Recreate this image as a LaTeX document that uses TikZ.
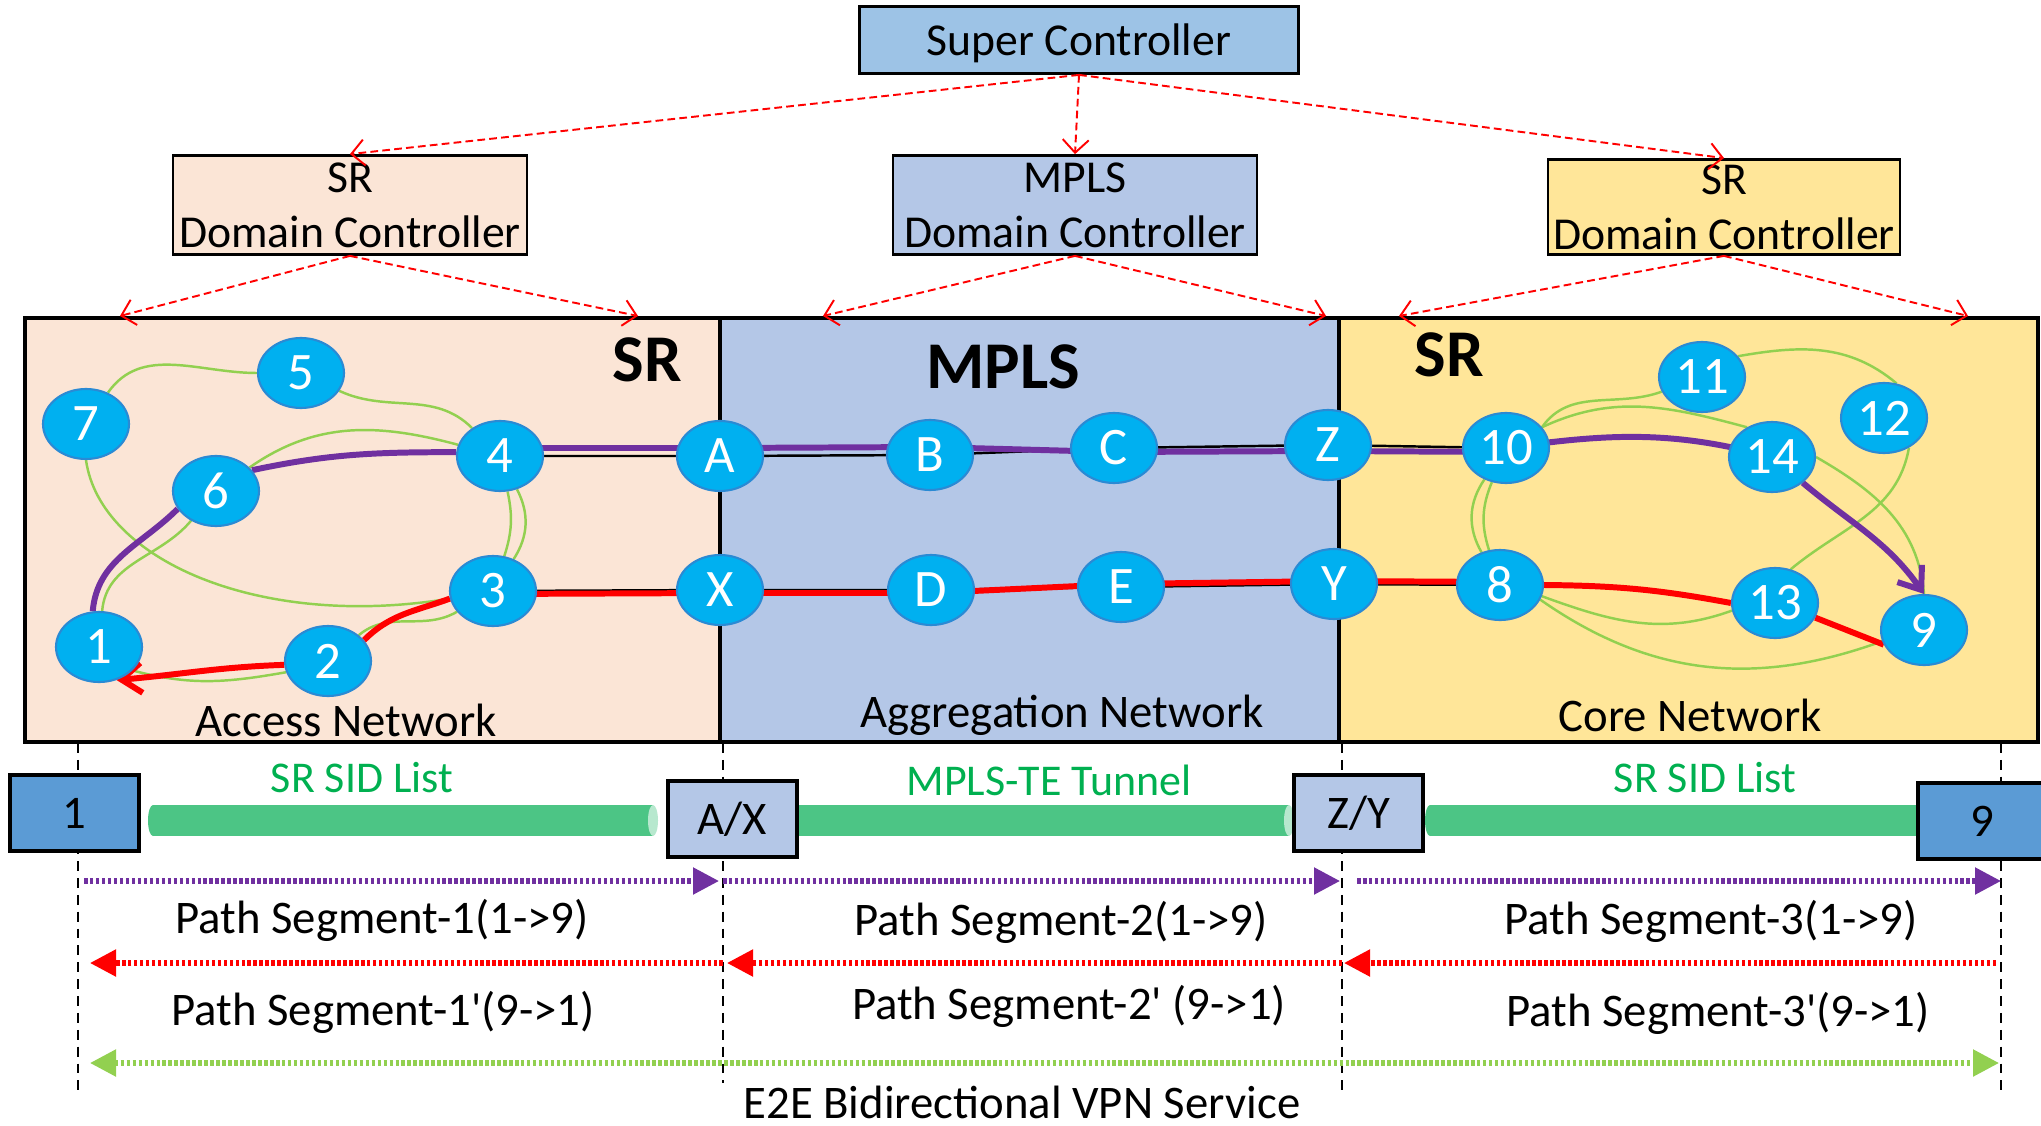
\documentclass[tikz,border=0pt]{standalone}
\usepackage{fontspec}
\setmainfont{Carlito}
\usetikzlibrary{shapes.geometric,arrows.meta,backgrounds}

\definecolor{accessbg}{HTML}{FBE5D6}
\definecolor{aggrbg}{HTML}{B4C7E7}
\definecolor{corebg}{HTML}{FFE699}
\definecolor{superbg}{HTML}{9DC3E6}
\definecolor{edgebg}{HTML}{5B9BD5}
\definecolor{routerblue}{HTML}{00B0F0}
\definecolor{routerline}{HTML}{2A8AD4}
\definecolor{linkgreen}{HTML}{92D050}
\definecolor{pathpurple}{HTML}{7030A0}
\definecolor{tunnelgreen}{HTML}{4CC585}
\definecolor{labelgreen}{HTML}{00B050}

\tikzset{
  router/.style={ellipse, draw=routerline, line width=0.6pt, fill=routerblue, text=white,
    minimum width=0.86cm, minimum height=0.70cm, inner sep=0pt, font=\fontsize{15}{15}\selectfont},
  ctrl/.style={draw=black, line width=0.8pt, align=center, inner sep=0pt, text depth=0pt,
    font=\fontsize{13}{15.6}\selectfont},
  domainbox/.style={draw=black, line width=0.9pt},
  ctrlarrow/.style={red, line width=0.55pt, dash pattern=on 2.2pt off 1.2pt,
    -{Straight Barb[length=1.3mm,width=2.6mm]}},
  link/.style={linkgreen, line width=0.7pt},
  wire/.style={black, line width=0.7pt},
  uppath/.style={pathpurple, line width=1.7pt},
  downpath/.style={red, line width=1.7pt},
  endbox/.style={draw=black, line width=1pt, minimum width=1.29cm, minimum height=0.76cm,
    inner sep=0pt, font=\fontsize{13.3}{13.3}\selectfont},
  guide/.style={black, line width=0.6pt, dash pattern=on 2.8pt off 2pt},
  fwdseg/.style={pathpurple, line width=1.5pt, dash pattern=on 1pt off 0.7pt,
    -{Triangle[length=2.6mm,width=2.6mm]}},
  bwdseg/.style={red, line width=1.5pt, dash pattern=on 1pt off 0.7pt,
    -{Triangle[length=2.6mm,width=2.6mm]}},
  vpnseg/.style={linkgreen, line width=1.5pt, dash pattern=on 1pt off 0.7pt,
    {Triangle[length=2.6mm,width=2.6mm]}-{Triangle[length=2.6mm,width=2.6mm]}},
  lbl/.style={anchor=base, inner sep=0pt, font=\fontsize{13.3}{16}\selectfont},
  tunnellbl/.style={lbl, text=labelgreen, font=\fontsize{12.5}{15}\selectfont},
  dlabel/.style={anchor=base, inner sep=0pt, font=\fontsize{19}{22}\selectfont\bfseries}
}

\begin{document}
\begin{tikzpicture}
\useasboundingbox (0,0) rectangle (20.41,-11.26);

% controllers
\node[ctrl, fill=superbg, minimum width=4.39cm, minimum height=0.67cm] (super) at (10.79,-0.40) {Super Controller};
\node[ctrl, fill=accessbg, minimum width=3.54cm, minimum height=0.99cm] (dcl) at (3.50,-2.05) {SR\\Domain Controller};
\node[ctrl, fill=aggrbg, minimum width=3.64cm, minimum height=0.99cm] (dcm) at (10.75,-2.05) {MPLS\\Domain Controller};
\node[ctrl, fill=corebg, minimum width=3.52cm, minimum height=0.95cm] (dcr) at (17.24,-2.07) {SR\\Domain Controller};

\coordinate (acc1) at (1.20,-3.16);
\coordinate (acc2) at (6.38,-3.16);
\coordinate (agg1) at (8.23,-3.16);
\coordinate (agg2) at (13.26,-3.16);
\coordinate (cor1) at (13.99,-3.16);
\coordinate (cor2) at (19.68,-3.16);

\draw[ctrlarrow] (super.south) -- (dcl.north);
\draw[ctrlarrow] (super.south) -- (dcm.north);
\draw[ctrlarrow] (super.south) -- (dcr.north);
\draw[ctrlarrow] (dcl.south) -- (acc1);
\draw[ctrlarrow] (dcl.south) -- (acc2);
\draw[ctrlarrow] (dcm.south) -- (agg1);
\draw[ctrlarrow] (dcm.south) -- (agg2);
\draw[ctrlarrow] (dcr.south) -- (cor1);
\draw[ctrlarrow] (dcr.south) -- (cor2);

% domains and guide lines
\coordinate (g1) at (0.78,-7.43);
\coordinate (g2) at (7.23,-7.43);
\coordinate (g3) at (13.42,-7.43);
\coordinate (g4) at (20.01,-7.43);
\begin{scope}[on background layer]
  \draw[domainbox, fill=accessbg] (0.25,-3.18) rectangle (7.20,-7.42);
  \draw[domainbox, fill=aggrbg] (7.20,-3.18) rectangle (13.39,-7.42);
  \draw[domainbox, fill=corebg] (13.39,-3.18) rectangle (20.38,-7.42);
  \draw[guide] (g1) -- ++(0,-3.49);
  \draw[guide] (g2) -- ++(0,-3.40);
  \draw[guide] (g3) -- ++(0,-3.54);
  \draw[guide] (g4) -- ++(0,-3.50);
\end{scope}

\node[dlabel] (srA) at (6.47,-3.81) {SR};
\node[dlabel] (mplsB) at (10.03,-3.88) {MPLS};
\node[dlabel] (srC) at (14.49,-3.76) {SR};
\node[lbl] (accN) at (3.46,-7.36) {Access Network};
\node[lbl] (aggN) at (10.62,-7.27) {Aggregation Network};
\node[lbl] (corN) at (16.90,-7.31) {Core Network};

% access routers
\node[router] (r7) at (0.86,-4.24) {7};
\node[router] (r5) at (3.01,-3.73) {5};
\node[router] (r6) at (2.16,-4.91) {6};
\node[router] (r4) at (5.00,-4.56) {4};
\node[router] (r1) at (0.99,-6.47) {1};
\node[router] (r2) at (3.28,-6.61) {2};
\node[router] (r3) at (4.93,-5.91) {3};
% aggregation routers
\node[router] (rA) at (7.20,-4.56) {A};
\node[router] (rB) at (9.30,-4.55) {B};
\node[router] (rC) at (11.14,-4.48) {C};
\node[router] (rZ) at (13.28,-4.45) {Z};
\node[router] (rX) at (7.20,-5.90) {X};
\node[router] (rD) at (9.31,-5.90) {D};
\node[router] (rE) at (11.21,-5.87) {E};
\node[router] (rY) at (13.34,-5.84) {Y};
% core routers
\node[router] (r10) at (15.06,-4.48) {10};
\node[router] (r11) at (17.02,-3.77) {11};
\node[router] (r12) at (18.84,-4.18) {12};
\node[router] (r14) at (17.72,-4.57) {14};
\node[router] (r8) at (15.00,-5.85) {8};
\node[router] (r13) at (17.75,-6.03) {13};
\node[router] (r9) at (19.24,-6.30) {9};

\begin{scope}[on background layer]
  % green links
  \draw[link] (r7) to[out=55,in=180] (r5);
  \draw[link] (r5) to[out=-25,in=135] (r4);
  \draw[link] (r6) to[out=35,in=165] (r4);
  \draw[link] (r4) to[bend left=15] (r3);
  \draw[link] (r4) to[bend left=30] (r3);
  \draw[link] (r7.south) .. controls (1.0,-5.6) and (2.6,-6.3) .. (r3.190);
  \draw[link] (r1) to[out=85,in=230] (r6);
  \draw[link] (r1.-35) to[out=-15,in=190] (r2.195);
  \draw[link] (r2) to[out=40,in=210] (r3);
  \draw[link] (r10.30) to[out=55,in=200] (r11);
  \draw[link] (r11.30) to[out=10,in=140] (r12.70);
  \draw[link] (r12.-50) to[out=-100,in=40] (r13.65);
  \draw[link] (r10.30) to[out=25,in=165] (r14.130);
  \draw[link] (r14.east) to[out=-30,in=95] (r9.north);
  \draw[link] (r10) to[bend right=20] (r8);
  \draw[link] (r10) to[bend right=32] (r8);
  \draw[link] (r8.-15) to[out=-20,in=200] (r13.190);
  \draw[link] (r8.-20) to[out=-35,in=200] (r9.195);
  % physical links between domains
  \draw[wire] (r4.center) -- (rA.center) -- (rB.center) -- (rC.center) -- (rZ.center) -- (r10.center);
  \draw[wire] (r3.center) -- (rX.center) -- (rD.center) -- (rE.center) -- (rY.center) -- (r8.center);
  % path 1 -> 9
  \draw[uppath] (r1.100) to[out=85,in=225] (r6.205);
  \draw[uppath] (r6.30) to[out=12,in=180] (r4.175);
  \draw[uppath] ([yshift=.8mm]r4.center) -- ([yshift=.8mm]rA.center) -- ([yshift=.8mm]rB.center)
    -- ([yshift=-.4mm]rC.center) -- ([yshift=-.6mm]rZ.center) -- ([yshift=-.4mm]r10.center);
  \draw[uppath] (r10.center) to[out=8,in=165] (r14.center);
  \draw[uppath, -{Straight Barb[length=2mm,width=3mm]}] (r14) to[out=-40,in=125] (r9.north);
  % path 9 -> 1
  \draw[downpath] (r9.200) -- (r13.-20);
  \draw[downpath] (r13.west) to[bend right=5] (r8.east);
  \draw[downpath] ([yshift=.3mm]r8.center) -- ([yshift=.3mm]rY.center) -- ([yshift=.3mm]rE.center)
    -- ([yshift=-.3mm]rD.center) -- ([yshift=-.3mm]rX.center) -- ([yshift=-.3mm]r3.center);
  \draw[downpath] (r3.190) to[out=200,in=45] (r2.30);
  \draw[downpath, -{Straight Barb[length=2mm,width=3mm]}] (r2.185) to[out=182,in=5] (r1.-62);
\end{scope}

% tunnels
\fill[tunnelgreen] (1.53,-8.05) rectangle (6.53,-8.36);
\fill[tunnelgreen] (1.53,-8.205) ellipse (0.05 and 0.155);
\fill[tunnelgreen!40!white] (6.53,-8.205) ellipse (0.05 and 0.155);
\fill[tunnelgreen] (7.96,-8.05) rectangle (12.89,-8.36);
\fill[tunnelgreen!40!white] (12.89,-8.205) ellipse (0.05 and 0.155);
\fill[tunnelgreen] (14.30,-8.05) rectangle (19.20,-8.36);
\fill[tunnelgreen] (14.30,-8.205) ellipse (0.05 and 0.155);

\node[endbox, fill=edgebg] (e1) at (0.745,-8.13) {1};
\node[endbox, fill=aggrbg] (eAX) at (7.325,-8.19) {A/X};
\node[endbox, fill=aggrbg] (eZY) at (13.585,-8.13) {Z/Y};
\node[endbox, fill=edgebg] (e9) at (19.825,-8.21) {9};

\node[tunnellbl] (sid1) at (3.62,-7.92) {SR SID List};
\node[tunnellbl] (mte) at (10.49,-7.95) {MPLS-TE Tunnel};
\node[tunnellbl] (sid2) at (17.05,-7.92) {SR SID List};

% path segments
\coordinate (fw) at (0,-8.81);
\coordinate (bw) at (0,-9.63);
\coordinate (vpn) at (0,-10.63);
\draw[fwdseg, shorten <=0.6mm, shorten >=0.4mm] (g1 |- fw) -- (g2 |- fw);
\draw[fwdseg, shorten >=0.2mm] (g2 |- fw) -- (g3 |- fw);
\draw[fwdseg, shorten <=1.5mm] (g3 |- fw) -- (g4 |- fw);
\draw[bwdseg, shorten >=1.2mm] (g2 |- bw) -- (g1 |- bw);
\draw[bwdseg, shorten >=0.4mm] (g3 |- bw) -- (g2 |- bw);
\draw[bwdseg, shorten <=0.5mm, shorten >=0.2mm] (g4 |- bw) -- (g3 |- bw);
\draw[vpnseg, shorten <=1.2mm, shorten >=0.2mm] (g1 |- vpn) -- (g4 |- vpn);

\node[lbl] (seg1f) at (3.82,-9.33) {Path Segment-1(1->9)};
\node[lbl] (seg2f) at (10.61,-9.35) {Path Segment-2(1->9)};
\node[lbl] (seg3f) at (17.11,-9.34) {Path Segment-3(1->9)};
\node[lbl] (seg1b) at (3.83,-10.25) {Path Segment-1\textquotesingle(9->1)};
\node[lbl] (seg2b) at (10.69,-10.19) {Path Segment-2\textquotesingle\ (9->1)};
\node[lbl] (seg3b) at (17.18,-10.26) {Path Segment-3\textquotesingle(9->1)};
\node[lbl] (e2e) at (10.22,-11.18) {E2E Bidirectional VPN Service};
\end{tikzpicture}
\end{document}
